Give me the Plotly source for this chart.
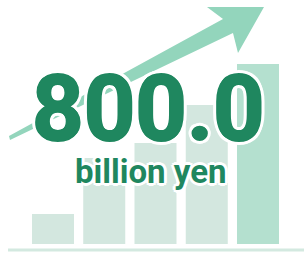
import plotly.graph_objects as go

W, H = 304, 253

# data
categories = ["Stage 1", "Stage 2", "Stage 3", "Stage 4", "Stage 5"]
values = [133, 382, 449, 618, 800]
bar_colors = ["#d3e7df", "#d3e7df", "#d3e7df", "#d3e7df", "#b4e0cf"]
unit_label = "billion yen"
text_color = "#1f875f"

def px(x):
    return x / W

def py(y):
    return 1 - y / H

fig = go.Figure()
fig.add_trace(go.Bar(
    x=list(range(len(categories))),
    y=values,
    marker=dict(color=bar_colors, line=dict(width=0)),
    hoverinfo="skip",
    customdata=categories,
))

# arrow (decorative) polygon in pixel space
arrow_pts = [(9, 136), (223, 19), (207, 7), (264, 7), (238, 53), (233, 33), (10, 140)]
path = "M " + " L ".join(f"{px(x):.4f},{py(y):.4f}" for x, y in arrow_pts) + " Z"
fig.add_shape(type="path", path=path, xref="paper", yref="paper",
              fillcolor="#93d5bc", line=dict(width=0), layer="below")

# baseline
fig.add_shape(type="line", xref="paper", yref="paper",
              x0=px(8), x1=1, y0=py(250), y1=py(250),
              line=dict(color="#d3e9e0", width=3), layer="below")

def outline(thick, white):
    c = text_color
    parts = []
    if thick:
        parts += [f"{thick}px 0 0 {c}", f"-{thick}px 0 0 {c}", f"0 {thick}px 0 {c}", f"0 -{thick}px 0 {c}"]
    w = white
    d = round(white * 0.7, 1)
    parts += [f"{w}px 0 0 #fff", f"-{w}px 0 0 #fff", f"0 {w}px 0 #fff", f"0 -{w}px 0 #fff",
              f"{d}px {d}px 0 #fff", f"-{d}px {d}px 0 #fff", f"{d}px -{d}px 0 #fff", f"-{d}px -{d}px 0 #fff"]
    return ", ".join(parts)

fig.add_annotation(text=f"{values[-1]:.1f}", xref="paper", yref="paper",
                   x=px(148), y=py(110), xanchor="center", yanchor="middle",
                   showarrow=False,
                   font=dict(family="Roboto", size=90, color=text_color,
                             weight="bold", shadow=outline(1, 4)))
fig.add_annotation(text=unit_label, xref="paper", yref="paper",
                   x=px(151), y=py(171), xanchor="center", yanchor="middle",
                   showarrow=False,
                   font=dict(family="Roboto", size=33, color=text_color,
                             weight="bold", shadow=outline(0, 3)))

ymin = -9 * 800 / 180
ymax = 244 * 800 / 180
fig.update_layout(
    width=W, height=H,
    margin=dict(l=0, r=0, t=0, b=0),
    paper_bgcolor="white", plot_bgcolor="white",
    bargap=0.18,
    showlegend=False,
    xaxis=dict(range=[-53 / 51.25, (304 - 53) / 51.25], visible=False, fixedrange=True),
    yaxis=dict(range=[ymin, ymax], visible=False, fixedrange=True),
)

fig.write_html("out.html", config={"displayModeBar": False},
               post_script="document.body.style.margin='0px';document.body.style.overflow='hidden';")
